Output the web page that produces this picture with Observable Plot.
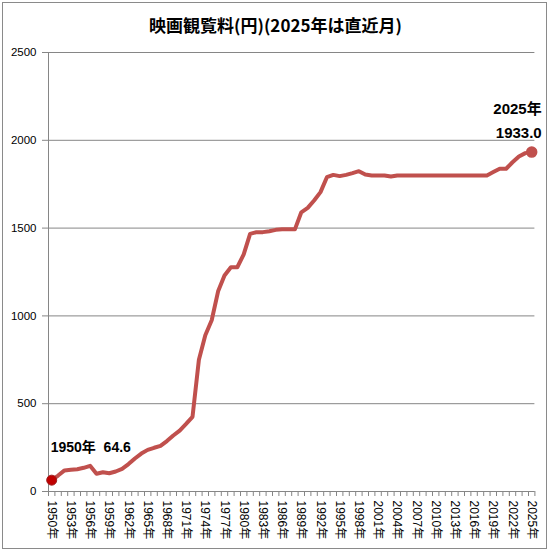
<!DOCTYPE html>
<html>
<head>
<meta charset="utf-8">
<script src="https://cdn.jsdelivr.net/npm/d3@7"></script>
<script src="https://cdn.jsdelivr.net/npm/@observablehq/plot@0.6"></script>
<style>
  html, body { margin: 0; padding: 0; background: #fff; }
  #wrap { position: relative; width: 551px; height: 551px; }
  #border { position: absolute; left: 2px; top: 2px; width: 543px; height: 545px; border: 1px solid #8a8a8a; pointer-events: none; }
  #title { position: absolute; left: 0; top: 12px; width: 551px; text-align: center;
           font: bold 17px "Noto Sans CJK JP", sans-serif; color: #000; }
  #chart { position: absolute; left: 0; top: 0; }
</style>
</head>
<body>
<div id="wrap">
  <div id="chart"></div>
  <div id="title">映画観覧料(円)(2025年は直近月)</div>
  <div id="border"></div>
</div>
<script>
const titleText = "映画観覧料(円)(2025年は直近月)";
const years = d3.range(1950, 2026);
const prices = [
  64.6, 91, 120, 124, 127, 135, 146, 101, 110, 104,
  114, 129, 156, 188, 216, 237, 249, 260, 287, 319,
  347, 385, 425, 750, 890, 975, 1140, 1230, 1277, 1277,
  1350, 1467, 1477, 1477, 1482, 1490, 1493, 1493, 1493, 1590,
  1615, 1657, 1705, 1790, 1803, 1796, 1803, 1813, 1824, 1805,
  1800, 1800, 1800, 1794, 1800, 1800, 1800, 1800, 1800, 1800,
  1800, 1800, 1800, 1800, 1800, 1800, 1800, 1800, 1800, 1819,
  1838, 1838, 1875, 1908, 1927, 1933.0
];
const yTicks = [0, 500, 1000, 1500, 2000, 2500];
const labelYears = d3.range(1950, 2026, 3);
const boundaries = d3.range(1949.5, 2026, 1);

const data = years.map((y, i) => ({year: y, price: prices[i]}));
const first = [data[0]];
const last = [data[data.length - 1]];

const red = "#C0504D";
const grid = "#868686";
const numFont = '"Liberation Sans", "Noto Sans CJK JP", sans-serif';

const chart = Plot.plot({
  width: 551,
  height: 551,
  marginTop: 52,
  marginBottom: 60,
  marginLeft: 48,
  marginRight: 16.6,
  style: {fontFamily: numFont, background: "transparent"},
  x: {domain: [1949.5, 2025.5], axis: null},
  y: {domain: [0, 2500], axis: null},
  marks: [
    Plot.gridY(yTicks, {stroke: grid, strokeOpacity: 1, strokeWidth: 1}),
    Plot.ruleX([1949.5], {stroke: grid, strokeWidth: 1}),
    Plot.axisY(yTicks, {anchor: "left", tickSize: 6, tickPadding: 6, stroke: grid, fill: "#000", fontSize: 11.5, tickFormat: d => String(d), label: null}),
    Plot.axisX(boundaries, {anchor: "bottom", tickSize: 5, tickFormat: () => "", stroke: grid, label: null}),
    Plot.ruleY([0], {stroke: grid, strokeWidth: 1}),
    Plot.axisX(labelYears, {anchor: "bottom", tickSize: 0, tickPadding: 9, tickRotate: 90, tickFormat: d => d + "年", fontSize: 12, fill: "#000", label: null}),
    Plot.lineY(data, {x: "year", y: "price", stroke: red, strokeWidth: 4, strokeLinejoin: "round", strokeLinecap: "round"}),
    Plot.dot(first, {x: "year", y: "price", r: 5, fill: "#C00000", stroke: "#A02020", strokeWidth: 1}),
    Plot.dot(last, {x: "year", y: "price", r: 5, fill: red, stroke: red}),
    Plot.text(first, {x: "year", y: "price", text: d => d.year + "年  " + d.price.toFixed(1), textAnchor: "start", lineAnchor: "middle", dx: -1, dy: -33, fontSize: 14, fontWeight: "bold", fill: "#000"}),
    Plot.text(last, {x: "year", y: "price", text: d => d.year + "年\n" + d.price.toFixed(1), textAnchor: "end", lineAnchor: "bottom", lineHeight: 1.6, dx: 10, dy: -14, fontSize: 15, fontWeight: "bold", fill: "#000"})
  ]
});
document.getElementById("chart").appendChild(chart);
document.getElementById("title").textContent = titleText;
</script>
</body>
</html>
